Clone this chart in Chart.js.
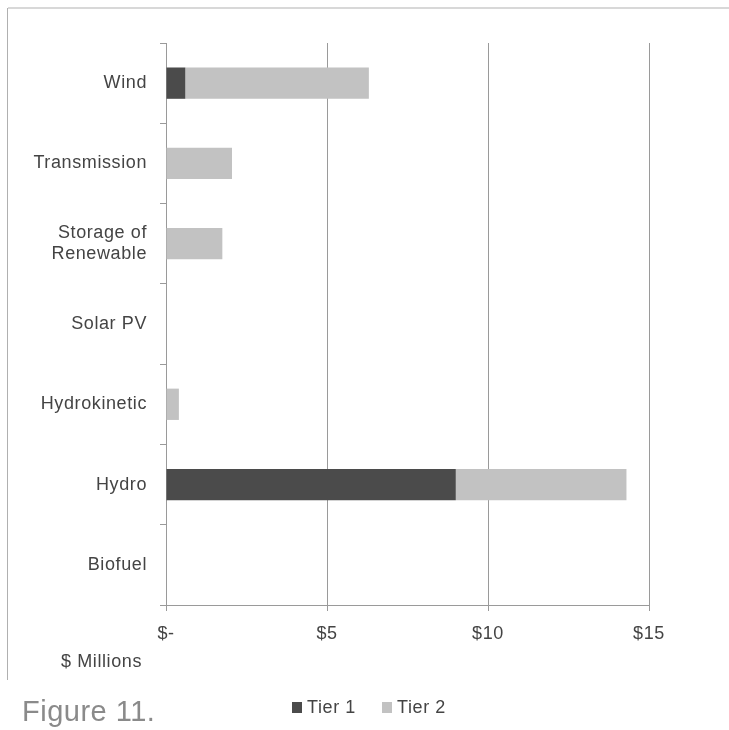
<!DOCTYPE html>
<html>
<head>
<meta charset="utf-8">
<script src="https://cdn.jsdelivr.net/npm/chart.js@4/dist/chart.umd.min.js"></script>
<style>
  html, body { margin: 0; padding: 0; background: #fff; }
  #wrap { width: 729px; height: 730px; position: relative; }
</style>
</head>
<body>
<div id="wrap"><canvas id="fundChart" width="729" height="730"></canvas></div>
<script>
const categories = [
  "Wind",
  "Transmission",
  ["Storage of", "Renewable"],
  "Solar PV",
  "Hydrokinetic",
  "Hydro",
  "Biofuel"
];
const tier1 = [0.6, 0, 0, 0, 0, 9.0, 0];
const tier2 = [5.7, 2.05, 1.75, 0, 0.4, 5.3, 0];
const xTicks = [0, 5, 10, 15];
const xTickLabels = ["$-", "$5", "$10", "$15"];

const FONT = "'Liberation Sans', Arial, sans-serif";

// frame, axis title, caption and legend drawn on the canvas
const extras = {
  id: 'extras',
  beforeDraw(chart) {
    chart.ctx.letterSpacing = '0.6px';
  },
  afterDraw(chart) {
    const c = chart.ctx;
    c.save();
    c.strokeStyle = '#d8d8d8';
    c.lineWidth = 2;
    c.beginPath();
    c.moveTo(8, 8); c.lineTo(729, 8);
    c.stroke();
    c.strokeStyle = '#b0b0b0';
    c.lineWidth = 1;
    c.beginPath();
    c.moveTo(7.5, 8); c.lineTo(7.5, 680);
    c.stroke();

    c.fillStyle = '#444';
    c.font = '18px ' + FONT;
    c.textAlign = 'left';
    c.textBaseline = 'middle';
    c.fillText('$ Millions', 61, 662);

    c.fillStyle = '#8a8a8a';
    c.letterSpacing = '0.5px';
    c.font = '29px ' + FONT;
    c.fillText('Figure 11.', 22, 713);

    // legend
    c.font = '18px ' + FONT;
    c.letterSpacing = '0.6px';
    const starts = [292, 382];
    chart.data.datasets.forEach((ds, i) => {
      const x = starts[i];
      c.fillStyle = ds.backgroundColor;
      c.fillRect(x, 702, 10, 11);
      c.fillStyle = '#444';
      c.fillText(ds.label, x + 15, 708);
    });
    c.restore();
  }
};

new Chart(document.getElementById('fundChart'), {
  type: 'bar',
  data: {
    labels: categories,
    datasets: [
      { label: 'Tier 1', data: tier1, backgroundColor: '#4b4b4b' },
      { label: 'Tier 2', data: tier2, backgroundColor: '#c2c2c2' }
    ]
  },
  options: {
    responsive: false,
    animation: false,
    indexAxis: 'y',
    layout: { padding: { left: 0, right: 80, top: 43, bottom: 0 } },
    categoryPercentage: 1,
    barPercentage: 0.39,
    plugins: {
      legend: { display: false },
      tooltip: { enabled: false }
    },
    scales: {
      x: {
        stacked: true,
        min: 0,
        max: 15,
        afterBuildTicks: (scale) => { scale.ticks = xTicks.map(v => ({ value: v })); },
        afterFit: (scale) => { scale.height = 125; },
        grid: { color: '#9a9a9a', lineWidth: 1, tickLength: 6, drawTicks: true },
        border: { color: '#9a9a9a' },
        ticks: {
          color: '#444',
          padding: 12,
          font: { size: 18, family: FONT },
          callback: (value) => xTickLabels[xTicks.indexOf(value)]
        }
      },
      y: {
        stacked: true,
        afterFit: (scale) => { scale.width = 166; },
        grid: { drawOnChartArea: false, color: '#9a9a9a', tickLength: 6, offset: true },
        border: { color: '#9a9a9a' },
        ticks: {
          color: '#444',
          padding: 13,
          font: { size: 18, family: FONT }
        }
      }
    }
  },
  plugins: [extras]
});
</script>
</body>
</html>
